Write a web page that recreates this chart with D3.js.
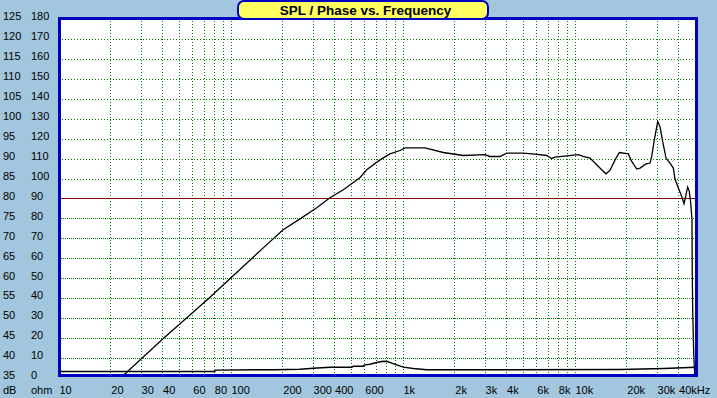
<!DOCTYPE html>
<html><head><meta charset="utf-8">
<script src="https://cdn.jsdelivr.net/npm/d3@7/dist/d3.min.js"></script>
<style>html,body{margin:0;padding:0;background:#a2c6de;} svg{display:block}</style>
</head><body><svg id="c" width="717" height="398"></svg>
<script>
// ---- data ----
const titleText = "SPL / Phase vs. Frequency";
const freqTickValues = [10,20,30,40,60,80,100,200,300,400,600,1000,2000,3000,4000,6000,8000,10000,20000,30000,40000];
const freqTickLabels = ["10","20","30","40","60","80","100","200","300","400","600","1k","2k","3k","4k","6k","8k","10k","20k","30k","40kHz"];
const dbTicks = [125,120,115,110,105,100,95,90,85,80,75,70,65,60,55,50,45,40,35];
const ohmTicks = [180,170,160,150,140,130,120,110,100,90,80,70,60,50,40,30,20,10,0];
const splFreq = [22,40.4,73,112.7,152.8,201,252,315,376,450,563,615,735,840,961,1028,1343,1715,2243,2999,3206,3665,4009,5000,5848,6840,7314,7650,8950,10450,11170,12220,13060,13960,15130,15970,17090,18110,20420,21370,22850,23890,25880,27300,27930,28910,30270,31200,32350,33820,35670,37300,38140,39880,41720,43030,43990,45190,46190,47060,47890,48000,48320,48990,49650,50000];
const splDb =   [34.5,45.0,54.8,62.3,67.6,72.3,75.0,77.8,80.3,82.3,85.4,87.3,89.8,91.3,92.15,92.8,92.8,91.65,90.9,91.1,90.65,90.65,91.5,91.5,91.25,90.9,90.15,90.5,90.8,91.1,90.65,90.25,89.0,87.75,86.3,87.15,89.8,91.65,91.3,89.4,87.5,87.75,88.8,89.0,90.65,94.8,99.4,98.15,94.4,90.25,89.0,87.75,85.0,82.75,80.65,78.8,80.65,83.0,81.9,79.0,74.8,64.2,52.3,41.5,35.8,30];
const impFreq = [10,80,82,180,252,301,376,504,515,587,601,643,703,768,810,859,919,1004,1148,1373,3665,18500,32900,50000];
const impOhm =  [3.5,3.5,4.15,4.4,4.65,5.15,5.65,5.65,6.15,6.15,6.8,7.15,8.0,8.65,8.5,7.65,6.8,5.65,5.0,4.3,4.3,4.5,5.0,5.65];

// ---- layout ----
const svg = d3.select("#c");
const L = 59, R = 697, T = 18, B = 376;
const x = d3.scaleLog().domain([10, 50000]).range([59, 59 + 172 * Math.log10(5000)]);
const y = d3.scaleLinear().domain([35, 125]).range([378.4, 19.5]);
const yOhm = d3.scaleLinear().domain([0, 180]).range([378.4, 19.5]);
const font = "'Liberation Sans', Arial, sans-serif";

svg.append("rect").attr("width", 717).attr("height", 398).attr("fill", "#a2c6de");
svg.append("rect").attr("x", L).attr("y", T).attr("width", R - L).attr("height", B - T).attr("fill", "#ffffff");

svg.append("clipPath").attr("id", "pc").append("rect")
  .attr("x", L).attr("y", T).attr("width", R - L).attr("height", B - T);

// grid
const grid = svg.append("g").attr("clip-path", "url(#pc)").attr("shape-rendering", "crispEdges");
const gridFreqs = x.ticks().filter(f => f > 10 && f < 50000);
grid.selectAll("line.v").data(gridFreqs).join("line")
  .attr("x1", d => Math.floor(x(d)) + 0.5).attr("x2", d => Math.floor(x(d)) + 0.5)
  .attr("y1", T).attr("y2", B)
  .attr("stroke", "#008000").attr("stroke-width", 1).attr("stroke-dasharray", "1,2");
grid.selectAll("line.h").data(dbTicks.filter(d => d > 35 && d < 125 && d !== 80)).join("line")
  .attr("x1", L).attr("x2", R)
  .attr("y1", d => Math.floor(y(d)) + 0.5).attr("y2", d => Math.floor(y(d)) + 0.5)
  .attr("stroke", "#008000").attr("stroke-width", 1)
  .attr("stroke-dasharray", d => d < 80 ? "1,1" : "1,2");
grid.append("line").attr("x1", L).attr("x2", R)
  .attr("y1", Math.floor(y(80)) + 0.5).attr("y2", Math.floor(y(80)) + 0.5)
  .attr("stroke", "#800000").attr("stroke-width", 1);

// curves
const curves = svg.append("g").attr("clip-path", "url(#pc)");
const splLine = d3.line().x(d => x(d[0])).y(d => y(d[1]));
curves.append("path").datum(splFreq.map((f, i) => [f, splDb[i]]))
  .attr("d", splLine).attr("fill", "none").attr("stroke", "#000").attr("stroke-width", 1.3);
const impLine = d3.line().x(d => x(d[0])).y(d => yOhm(d[1]));
curves.append("path").datum(impFreq.map((f, i) => [f, impOhm[i]]))
  .attr("d", impLine).attr("fill", "none").attr("stroke", "#000").attr("stroke-width", 1.5);

// border
svg.append("rect").attr("x", 59.5).attr("y", 18.5).attr("width", 637).attr("height", 357)
  .attr("fill", "none").attr("stroke", "#0000c0").attr("stroke-width", 3);

// left labels
svg.selectAll("text.db").data(dbTicks).join("text")
  .attr("x", 3).attr("y", d => y(d) + 0.8).text(d => d)
  .attr("font-family", font).attr("font-size", 11).attr("fill", "#000");
svg.selectAll("text.ohm").data(ohmTicks).join("text")
  .attr("x", 31).attr("y", d => yOhm(d) + 0.8).text(d => d)
  .attr("font-family", font).attr("font-size", 11).attr("fill", "#000");
svg.append("text").attr("x", 3).attr("y", 394).text("dB")
  .attr("font-family", font).attr("font-size", 11);
svg.append("text").attr("x", 31).attr("y", 394).text("ohm")
  .attr("font-family", font).attr("font-size", 11);

// bottom labels
svg.selectAll("text.f").data(freqTickValues).join("text")
  .attr("x", d => x(d) + 0.5).attr("y", 394).text((d, i) => freqTickLabels[i])
  .attr("font-family", font).attr("font-size", 11).attr("fill", "#000");

// title
svg.append("rect").attr("x", 238).attr("y", 1).attr("width", 250).attr("height", 18).attr("rx", 6)
  .attr("fill", "#ffff60").attr("stroke", "#0000c0").attr("stroke-width", 2);
svg.append("text").attr("x", 365.5).attr("y", 15).attr("text-anchor", "middle")
  .attr("font-family", font).attr("font-size", 13.5).attr("font-weight", "bold").text(titleText);
</script></body></html>
